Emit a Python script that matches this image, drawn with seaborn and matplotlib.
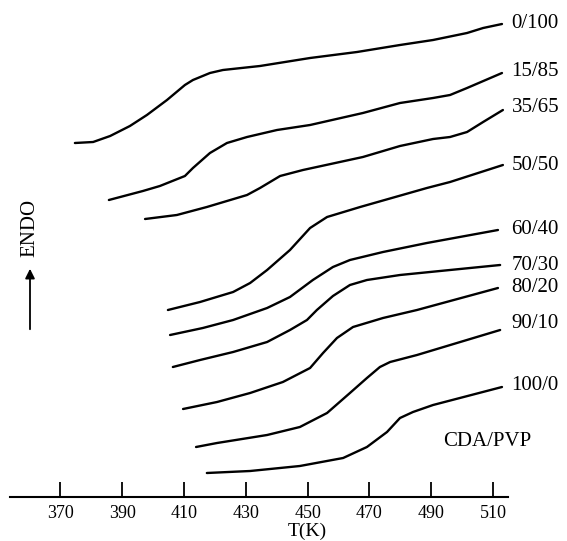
import matplotlib
matplotlib.use("Agg")
import matplotlib.pyplot as plt
import seaborn as sns
import pandas as pd

# ---- data (T in K, signal in arbitrary units) ----
comps = ["0/100", "15/85", "35/65", "50/50", "60/40", "70/30", "80/20", "90/10", "100/0"]

T_0_100 = [374.7, 380.6, 386.1, 392.5, 398.0, 404.5, 410.3, 412.9, 418.4, 422.6, 434.6, 450.8, 466.0, 479.9, 490.6, 501.6, 506.8, 512.9]
y_0_100 = [354, 355, 361, 371, 382, 397, 412, 417, 424, 427, 431, 439, 445, 452, 457, 464, 469, 473]

T_15_85 = [385.7, 396.7, 402.2, 410.3, 412.9, 418.4, 423.9, 430.4, 440.1, 450.8, 467.9, 479.9, 490.6, 496.1, 501.6, 512.9]
y_15_85 = [297, 306, 311, 321, 329, 344, 354, 360, 367, 372, 384, 394, 399, 402, 409, 424]

T_35_65 = [397.4, 407.7, 417.4, 430.4, 434.6, 441.1, 448.5, 467.9, 479.9, 490.6, 496.1, 501.6, 506.8, 513.2]
y_35_65 = [278, 282, 290, 302, 309, 321, 327, 340, 351, 358, 360, 365, 375, 387]

T_50_50 = [404.8, 415.2, 425.9, 431.4, 436.9, 444.3, 450.8, 456.3, 467.0, 488.6, 496.1, 513.2]
y_50_50 = [187, 195, 205, 214, 227, 247, 269, 280, 290, 309, 315, 332]

T_60_40 = [405.5, 416.1, 425.9, 436.9, 444.3, 451.7, 458.2, 463.7, 474.4, 488.6, 511.6]
y_60_40 = [162, 169, 177, 189, 200, 217, 230, 237, 245, 254, 267]

T_70_30 = [406.4, 415.2, 425.9, 436.9, 444.3, 449.8, 453.0, 458.2, 463.7, 469.2, 479.9, 489.6, 512.3]
y_70_30 = [130, 137, 145, 155, 167, 177, 187, 201, 212, 217, 222, 225, 232]

T_80_20 = [409.7, 420.7, 431.4, 442.0, 450.8, 455.0, 459.5, 464.7, 474.4, 485.4, 511.6]
y_80_20 = [88, 95, 104, 115, 129, 144, 159, 170, 179, 187, 209]

T_90_10 = [413.9, 420.7, 436.9, 447.5, 456.3, 463.7, 469.2, 473.4, 476.7, 485.4, 512.3]
y_90_10 = [50, 54, 62, 70, 84, 104, 119, 130, 135, 142, 167]

T_100_0 = [417.4, 431.4, 447.5, 461.5, 469.2, 475.7, 479.9, 484.1, 490.6, 512.9]
y_100_0 = [24, 26, 31, 39, 50, 65, 79, 85, 92, 110]

label_y = [474, 425, 389, 331, 268, 232, 209, 173, 112]

xticks = [370, 390, 410, 430, 450, 470, 490, 510]

series = [(T_0_100, y_0_100), (T_15_85, y_15_85), (T_35_65, y_35_65), (T_50_50, y_50_50),
          (T_60_40, y_60_40), (T_70_30, y_70_30), (T_80_20, y_80_20), (T_90_10, y_90_10),
          (T_100_0, y_100_0)]

rows = []
for c, (ts, ys) in zip(comps, series):
    for t, v in zip(ts, ys):
        rows.append({"T": t, "signal": v, "comp": c})
df = pd.DataFrame(rows)

sns.set_theme(style="white")
plt.rcParams["font.family"] = ["Liberation Serif", "DejaVu Serif"]

fig = plt.figure(figsize=(5.67, 5.41), dpi=100)
ax = fig.add_axes([10 / 567, 44 / 541, 498 / 567, 497 / 541])

sns.lineplot(data=df, x="T", y="signal", hue="comp", hue_order=comps,
             palette=["black"] * len(comps), estimator=None, sort=False,
             legend=False, linewidth=1.7, ax=ax,
             solid_joinstyle="round", solid_capstyle="round")

ax.set_xlim(353.7, 514.85)
ax.set_ylim(0, 497)
ax.set_xticks(xticks)
ax.set_xticklabels([str(t) for t in xticks])
ax.set_yticks([])
ax.set_ylabel("")
ax.tick_params(axis="x", direction="in", length=11, width=1.3, pad=6,
               labelsize=13, colors="black", bottom=True)
for s in ["left", "top", "right"]:
    ax.spines[s].set_visible(False)
ax.spines["bottom"].set_linewidth(1.5)
ax.spines["bottom"].set_color("black")

ax.set_xlabel("T(K)", fontsize=14, color="black")
ax.xaxis.set_label_coords((307 - 10) / 498, (497 - 523) / 497)

for c, ly in zip(comps, label_y):
    ax.text(516.0, ly, c, ha="left", va="center", fontsize=15, color="black")

ax.text(493.8, 55, "CDA/PVP", ha="left", va="center", fontsize=15, color="black")

fig.text(30 / 567, 1 - 228 / 541, "ENDO", rotation=90, ha="center", va="center",
         fontsize=15, color="black")
ax.annotate("", xy=(30 / 567, 1 - 266 / 541), xytext=(30 / 567, 1 - 332 / 541),
            xycoords="figure fraction", textcoords="figure fraction",
            arrowprops=dict(arrowstyle="-|>", color="black", lw=1.3, mutation_scale=14))

fig.savefig("out.png", dpi=100)
